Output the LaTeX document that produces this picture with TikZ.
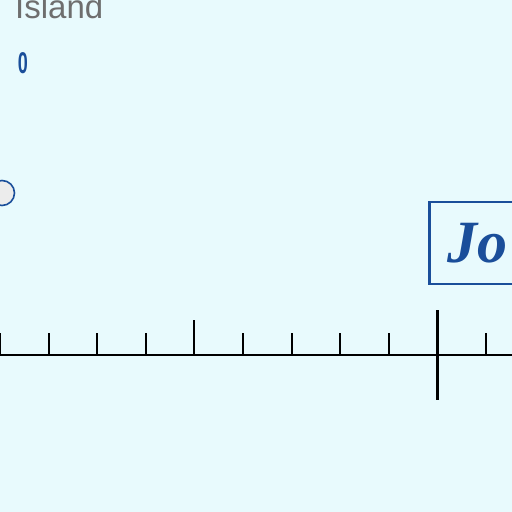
\documentclass[tikz,border=0pt]{standalone}
\usepackage{fontspec}
\setmainfont{Liberation Serif}
\setsansfont{Liberation Sans}
\usepackage{xcolor}
\usetikzlibrary{positioning,calc}
\definecolor{skybg}{RGB}{232,250,253}
\definecolor{labelblue}{RGB}{26,78,154}
\definecolor{islandgrey}{RGB}{110,110,110}
\tikzstyle{namebox} = [rectangle, draw=labelblue, line width=2.5pt, text=labelblue, font=\fontsize{60}{60}\selectfont\bfseries\itshape, inner xsep=18pt, text width=130pt, align=left, minimum height=82pt, anchor=west]
\tikzstyle{islandlabel} = [anchor=base west, inner sep=0pt, text=islandgrey, font=\sffamily\fontsize{33}{33}\selectfont]
\tikzstyle{marker} = [circle, draw=labelblue, fill=gray!15, line width=1.6pt, minimum size=25pt, inner sep=0pt]
\tikzstyle{axisline} = [line width=2pt, black]
\tikzstyle{minortick} = [line width=2pt, black]
\tikzstyle{majortick} = [line width=3pt, black]

\begin{document}
\begin{tikzpicture}[x=1pt,y=1pt]
    \fill[skybg] (0,0) rectangle (512,512);
    \useasboundingbox (0,0) rectangle (512,512);
    \clip (0,0) rectangle (512,512);
    \node (island)[islandlabel] at (15,493) {Island};
    \node (zero)[text=labelblue, font=\sffamily\bfseries\fontsize{30}{30}\selectfont, xscale=0.6, transform shape] at (23,449) {0};
    \node (dot)[marker] at (2,319) {};
    \node (jo)[namebox] at (428,269) {Jo};
    % axis with ticks
    \coordinate (axl) at (0,157);
    \coordinate (axr) at (512,157);
    \draw[axisline] (axl) -- (axr);
    \foreach \i in {0,1,2,3,5,6,7,8,10}
        \draw[minortick] ($(axl)+(48.6*\i,0)$) -- ++(0,22);
    \draw[minortick] ($(axl)+(194.4,0)$) -- ++(0,35);
    \draw[majortick] ($(axl)+(437.4,-45)$) -- ++(0,90);
\end{tikzpicture}
\end{document}
